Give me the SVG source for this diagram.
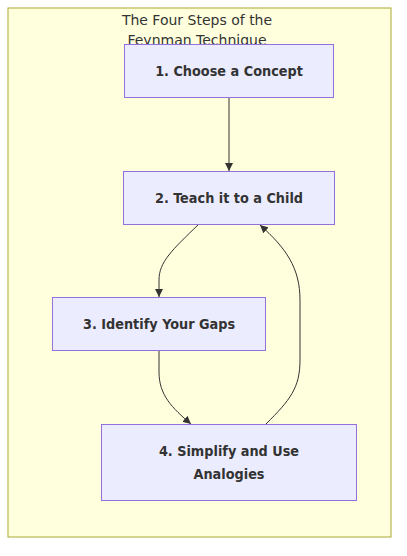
<svg xmlns="http://www.w3.org/2000/svg" width="407" height="556" viewBox="0 0 407 556">
<defs>
<style>
.node rect{fill:#ECECFF;stroke:#9370DB;stroke-width:1}
.node text{font-family:"DejaVu Sans Condensed","DejaVu Sans",Verdana,sans-serif;font-stretch:condensed;font-weight:bold;font-size:14.3px;fill:#333;text-anchor:middle}
.title{font-family:"DejaVu Sans",Verdana,sans-serif;font-size:14px;fill:#333;text-anchor:middle}
.edge{fill:none;stroke:#333;stroke-width:1}
</style>
<marker id="arrow" viewBox="0 0 10 10" refX="10" refY="5" markerWidth="8" markerHeight="8" markerUnits="userSpaceOnUse" orient="auto">
<path d="M0,0 L10,5 L0,10 z" fill="#333"/>
</marker>
</defs>
<rect x="8" y="8" width="383" height="529" fill="#ffffde" stroke="#aaaa33" stroke-width="1"/>
<text class="title" x="197" y="25">The Four Steps of the</text>
<text class="title" x="197" y="45">Feynman Technique</text>
<g id="edges">
<path class="edge" d="M229,97 L229,171" marker-end="url(#arrow)"/>
<path class="edge" d="M199,224 C172,250 159,262 159,280 L159,297" marker-end="url(#arrow)"/>
<path class="edge" d="M159,350 L159,372 C159,395 172,408 191,424" marker-end="url(#arrow)"/>
<path class="edge" d="M266,424 C290,400 300,388 300,360 L300,300 C300,268 286,248 260,225" marker-end="url(#arrow)"/>
</g>
<g id="n1" class="node">
<rect x="124.5" y="44.5" width="209" height="53"/>
<text x="229" y="76">1. Choose a Concept</text>
</g>
<g id="n2" class="node">
<rect x="123.5" y="171.5" width="211" height="53"/>
<text x="229" y="203">2. Teach it to a Child</text>
</g>
<g id="n3" class="node">
<rect x="52.5" y="297.5" width="213" height="53"/>
<text x="159" y="329">3. Identify Your Gaps</text>
</g>
<g id="n4" class="node">
<rect x="101.5" y="424.5" width="255" height="76"/>
<text x="229" y="456">4. Simplify and Use</text>
<text x="229" y="479">Analogies</text>
</g>
</svg>
